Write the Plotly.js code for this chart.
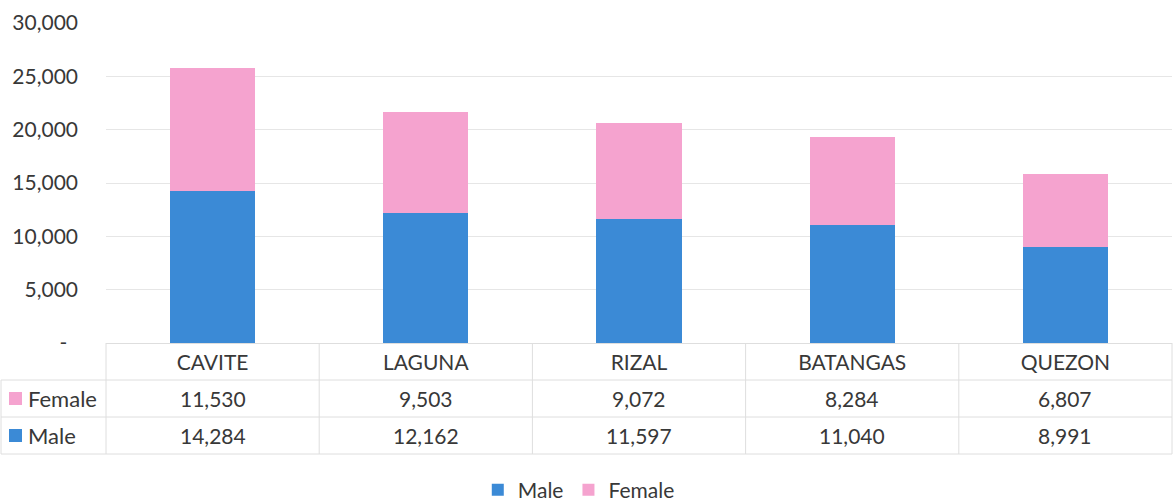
<!DOCTYPE html>
<html><head><meta charset="utf-8">
<script src="https://cdn.plot.ly/plotly-3.0.1.min.js"></script>
<style>html,body{margin:0;padding:0;background:#fff}#chart{width:1174px;height:503px}</style>
</head><body><div id="chart"></div>
<script>
var categories = ['CAVITE', 'LAGUNA', 'RIZAL', 'BATANGAS', 'QUEZON'];
var maleValues = [14284, 12162, 11597, 11040, 8991];
var femaleValues = [11530, 9503, 9072, 8284, 6807];
var yTickVals = [0, 5000, 10000, 15000, 20000, 25000, 30000];
var yTickText = ['-\u00a0\u00a0', '5,000', '10,000', '15,000', '20,000', '25,000', '30,000'];
var seriesNames = ['Male', 'Female'];
var maleColor = '#3b8ad6';
var femaleColor = '#f5a3cf';

var W = 1174, H = 503;
var L = 106, R = 1172, T = 23, B = 343;
var FONT = 'Lato, "Open Sans", sans-serif';
var TXT = '#383838';
var LINE = '#dedede';
function px(x) { return (x - L) / (R - L); }
function py(y) { return (B - y) / (B - T); }
function fmt(v) { return v.toLocaleString('en-US'); }

var rowHeader = [343, 380], rowFemale = [380, 417], rowMale = [417, 454];

var traces = [
  {type: 'bar', name: seriesNames[0], x: categories, y: maleValues, marker: {color: maleColor}, hoverinfo: 'skip'},
  {type: 'bar', name: seriesNames[1], x: categories, y: femaleValues, marker: {color: femaleColor}, hoverinfo: 'skip'}
];

var shapes = [];
var annotations = [];
function hline(y, x0, x1) {
  shapes.push({type: 'line', xref: 'paper', yref: 'paper', x0: px(x0), x1: px(x1), y0: py(y), y1: py(y), line: {color: LINE, width: 1}});
}
function vline(xr, x, y0, y1) {
  shapes.push({type: 'line', xref: xr, yref: 'paper', x0: x, x1: x, y0: py(y0), y1: py(y1), line: {color: LINE, width: 1}});
}
hline(rowFemale[0], 1, R);
hline(rowMale[0], 1, R);
hline(rowMale[1], 1, R);
vline('paper', px(1), rowFemale[0], rowMale[1]);
vline('paper', 0, rowHeader[0], rowMale[1]);
vline('paper', 1, rowHeader[0], rowMale[1]);
for (var i = 0; i < categories.length - 1; i++) vline('x', i + 0.5, rowHeader[0], rowMale[1]);

// row legend keys
function key(color, cy) {
  shapes.push({type: 'rect', xref: 'paper', yref: 'paper', x0: px(9), x1: px(22), y0: py(cy - 6.5), y1: py(cy + 6.5), fillcolor: color, line: {width: 0}});
}
var femaleY = (rowFemale[0] + rowFemale[1]) / 2, maleY = (rowMale[0] + rowMale[1]) / 2;
key(femaleColor, femaleY);
key(maleColor, maleY);
annotations.push({xref: 'paper', yref: 'paper', x: px(26), y: py(femaleY), xanchor: 'left', yanchor: 'middle', text: seriesNames[1], showarrow: false, font: {family: FONT, size: 22, color: TXT}});
annotations.push({xref: 'paper', yref: 'paper', x: px(26), y: py(maleY), xanchor: 'left', yanchor: 'middle', text: seriesNames[0], showarrow: false, font: {family: FONT, size: 22, color: TXT}});

categories.forEach(function (c, i) {
  annotations.push({xref: 'x', yref: 'paper', x: c, y: py(femaleY), xanchor: 'center', yanchor: 'middle', text: fmt(femaleValues[i]), showarrow: false, font: {family: FONT, size: 21, color: TXT}});
  annotations.push({xref: 'x', yref: 'paper', x: c, y: py(maleY), xanchor: 'center', yanchor: 'middle', text: fmt(maleValues[i]), showarrow: false, font: {family: FONT, size: 21, color: TXT}});
});

var layout = {
  width: W, height: H,
  margin: {l: L, r: W - R, t: T, b: H - B, pad: 0, autoexpand: false},
  paper_bgcolor: '#ffffff', plot_bgcolor: '#ffffff',
  barmode: 'stack', bargap: 0.6,
  font: {family: FONT, size: 21, color: TXT},
  xaxis: {type: 'category', showgrid: false, zeroline: false, showline: true, linecolor: LINE, linewidth: 1, ticks: '', ticklabelstandoff: 1, tickfont: {family: FONT, size: 21, color: TXT}, fixedrange: true},
  yaxis: {range: [0, 30000], tickmode: 'array', tickvals: yTickVals, ticktext: yTickText, showgrid: true, gridcolor: '#e6e6e6', gridwidth: 1, zeroline: false, showline: false, ticks: '', ticklabelstandoff: 27, tickfont: {family: FONT, size: 21, color: TXT}, fixedrange: true},
  showlegend: true,
  legend: {orientation: 'h', traceorder: 'normal', xref: 'container', yref: 'paper', x: 0.493, xanchor: 'center', y: py(490), yanchor: 'middle', font: {family: FONT, size: 21, color: TXT}, itemwidth: 30, itemsizing: 'constant', bgcolor: 'rgba(0,0,0,0)'},
  shapes: shapes,
  annotations: annotations
};

Plotly.newPlot('chart', traces, layout, {staticPlot: true, displayModeBar: false});
</script></body></html>
